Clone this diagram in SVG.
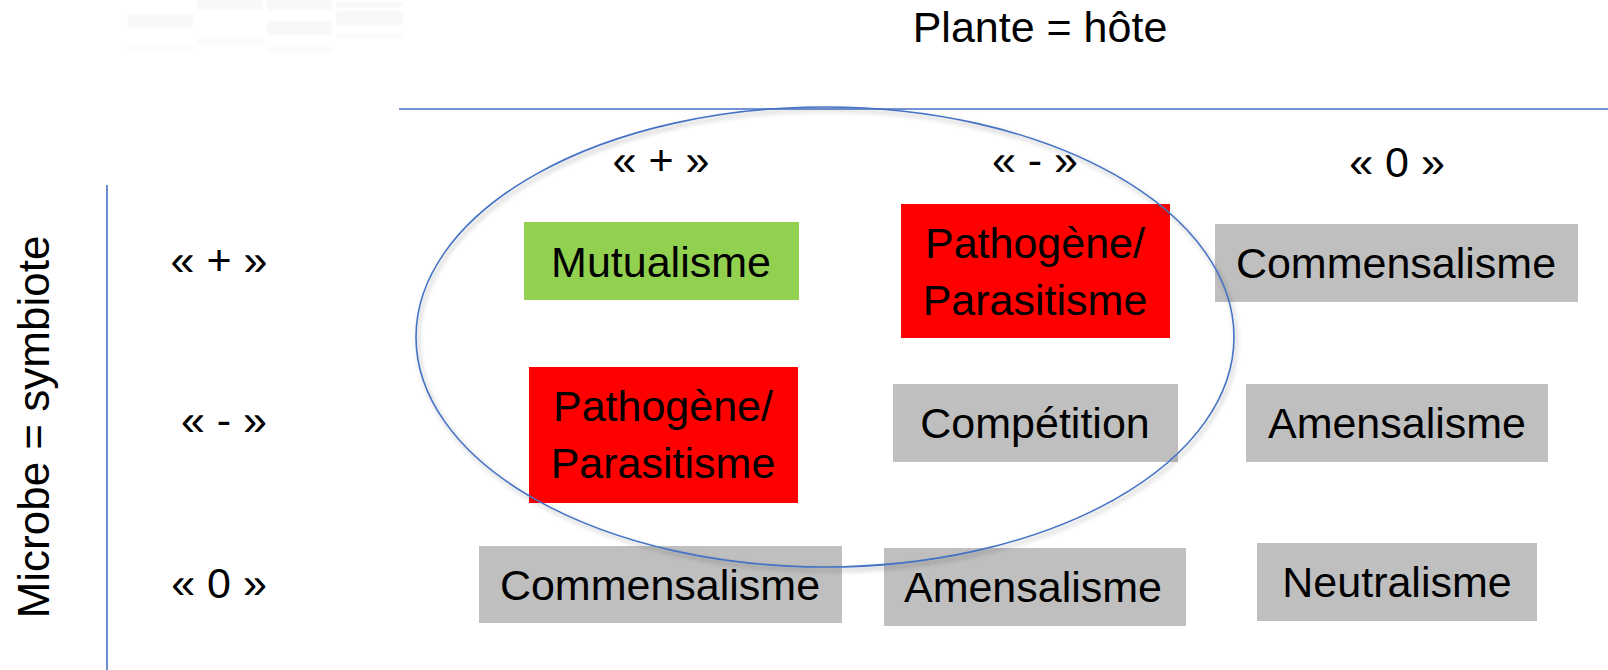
<svg xmlns="http://www.w3.org/2000/svg" width="1608" height="670" viewBox="0 0 1608 670">
  <defs>
    <style>
      text { font-family: "Liberation Sans", Arial, sans-serif; font-size: 43px; fill: #000; text-anchor: middle; }
      .axis { stroke: #4472C4; stroke-width: 1.6; fill: none; }
      .green { fill: #92D050; }
      .red { fill: #FF0000; }
      .gray { fill: #BFBFBF; }
      .ghost { fill: #f8f8f8; }
    </style>
    <filter id="shadow" x="-10%" y="-10%" width="120%" height="125%">
      <feGaussianBlur in="SourceAlpha" stdDeviation="2.5"/>
      <feOffset dx="2" dy="3" result="b"/>
      <feComponentTransfer><feFuncA type="linear" slope="0.35"/></feComponentTransfer>
      <feMerge><feMergeNode/><feMergeNode in="SourceGraphic"/></feMerge>
    </filter>
    <filter id="soft" x="-5%" y="-20%" width="110%" height="140%">
      <feGaussianBlur stdDeviation="1.2"/>
    </filter>
  </defs>
  <rect width="1608" height="670" fill="#ffffff"/>

  <!-- faint ghost artifact top-left -->
  <g id="ghost" filter="url(#soft)">
    <rect class="ghost" x="128" y="14" width="65" height="14"/>
    <rect class="ghost" x="128" y="46" width="65" height="5" opacity="0.6"/>
    <rect class="ghost" x="197" y="0" width="66" height="10"/>
    <rect class="ghost" x="197" y="38" width="66" height="7" opacity="0.6"/>
    <rect class="ghost" x="267" y="0" width="65" height="10"/>
    <rect class="ghost" x="267" y="21" width="65" height="14"/>
    <rect class="ghost" x="267" y="46" width="65" height="7" opacity="0.6"/>
    <rect class="ghost" x="336" y="2" width="67" height="5"/>
    <rect class="ghost" x="336" y="11" width="67" height="14"/>
    <rect class="ghost" x="336" y="33" width="67" height="6" opacity="0.6"/>
  </g>

  <!-- axes -->
  <g id="axes">
    <line class="axis" x1="399" y1="109" x2="1608" y2="109"/>
    <line class="axis" x1="107" y1="185" x2="107" y2="670"/>
  </g>

  <!-- titles -->
  <g id="title-plante"><text x="1040" y="42">Plante = hôte</text></g>
  <g id="title-microbe"><text transform="translate(49,427) rotate(-90)" style="font-size:44px">Microbe = symbiote</text></g>

  <!-- column headers -->
  <g id="col-plus"><text x="661" y="175">« + »</text></g>
  <g id="col-minus"><text x="1035" y="175">« - »</text></g>
  <g id="col-zero"><text x="1397" y="177">« 0 »</text></g>

  <!-- row headers -->
  <g id="row-plus"><text x="219" y="275">« + »</text></g>
  <g id="row-minus"><text x="224" y="435">« - »</text></g>
  <g id="row-zero"><text x="219" y="598">« 0 »</text></g>

  <!-- cells -->
  <g id="mutualisme">
    <rect class="green" x="524" y="222" width="275" height="78"/>
    <text x="661" y="277">Mutualisme</text>
  </g>
  <g id="pathogene-1">
    <rect class="red" x="901" y="204" width="269" height="134"/>
    <text x="1035" y="258">Pathogène/</text>
    <text x="1035" y="315">Parasitisme</text>
  </g>
  <g id="commensalisme-1">
    <rect class="gray" x="1215" y="224" width="363" height="78"/>
    <text x="1396" y="278">Commensalisme</text>
  </g>
  <g id="pathogene-2">
    <rect class="red" x="529" y="367" width="269" height="136"/>
    <text x="663" y="421">Pathogène/</text>
    <text x="663" y="478">Parasitisme</text>
  </g>
  <g id="competition">
    <rect class="gray" x="893" y="384" width="285" height="78"/>
    <text x="1035" y="438">Compétition</text>
  </g>
  <g id="amensalisme-1">
    <rect class="gray" x="1246" y="384" width="302" height="78"/>
    <text x="1397" y="438">Amensalisme</text>
  </g>
  <g id="commensalisme-2">
    <rect class="gray" x="479" y="546" width="363" height="77"/>
    <text x="660" y="600">Commensalisme</text>
  </g>
  <g id="amensalisme-2">
    <rect class="gray" x="884" y="548" width="302" height="78"/>
    <text x="1033" y="602">Amensalisme</text>
  </g>
  <g id="neutralisme">
    <rect class="gray" x="1257" y="543" width="280" height="78"/>
    <text x="1397" y="597">Neutralisme</text>
  </g>

  <!-- grouping ellipse -->
  <g id="ellipse-group">
    <ellipse cx="825" cy="337" rx="409" ry="230" fill="none" stroke="#4472C4" stroke-width="1.6" filter="url(#shadow)"/>
  </g>
</svg>
